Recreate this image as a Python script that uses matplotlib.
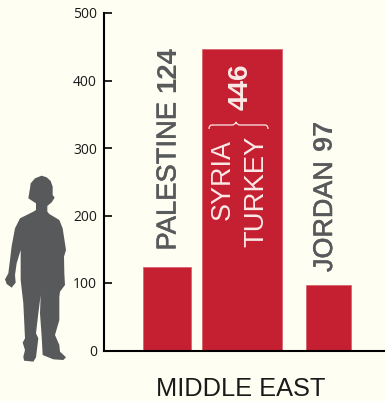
import matplotlib
matplotlib.use('Agg')
import matplotlib.pyplot as plt
import matplotlib.patheffects as pe
from matplotlib.patches import Polygon
from matplotlib.path import Path
from matplotlib.patches import PathPatch

# data
countries = ['PALESTINE', 'SYRIA / TURKEY', 'JORDAN']
values = [124, 446, 97]
y_ticks = [0, 100, 200, 300, 400, 500]
region = 'MIDDLE EAST'

# layout, in pixels from the axis
bar_x = [63, 138, 224.5]
bar_w = [48.5, 80.5, 45]

W, H = 385, 401
bg = '#fefef2'
red = '#c42032'
grey = '#58595b'
light = '#fbe9e6'

fig = plt.figure(figsize=(W / 100, H / 100), dpi=100, facecolor=bg)
ax = fig.add_axes([104 / W, 1 - 350.5 / H, (W - 104) / W, (350.5 - 13) / H])
ax.set_facecolor('none')
ax.set_xlim(0, W - 104)
ax.set_ylim(0, 500)

ax.bar(bar_x, values, width=bar_w, color=red, edgecolor='#d9596a', linewidth=0.5)

for s in ['top', 'right']:
    ax.spines[s].set_visible(False)
for s in ['left', 'bottom']:
    ax.spines[s].set_linewidth(1.5)
    ax.spines[s].set_color('black')
ax.set_xticks([])
ax.set_yticks(y_ticks)
ax.tick_params(axis='y', direction='in', length=6, width=1.2, pad=5)
for t in ax.get_yticklabels():
    t.set_family('Open Sans')
    t.set_fontsize(10)
    t.set_color('#1a1a1a')


def px_text(x, y, s, size, color, weight='normal'):
    # y is the pixel row of the text's lower end
    t = fig.text(x / W, 1 - y / H, s, rotation=90, ha='center', va='bottom',
                 family='Liberation Sans', fontsize=size, color=color, weight=weight)
    if weight == 'normal' and color == grey:
        t.set_path_effects([pe.withStroke(linewidth=0.4, foreground=grey)])


px_text(168.5, 250.5, countries[0], 19.7, grey)
px_text(168.5, 91.5, str(values[0]), 19.8, grey, 'bold')
px_text(222.5, 220, 'SYRIA', 19.4, light)
px_text(256.5, 247, 'TURKEY', 19.8, light)
px_text(241, 109.5, str(values[1]), 20.2, light, 'bold')
px_text(325, 272, countries[2], 19.4, grey)
px_text(325, 149.5, str(values[2]), 19.5, grey, 'bold')

fig.text(240.5 / W, 1 - 396 / H, region, ha='center', va='baseline',
         family='Liberation Sans', fontsize=18.3, color='#1a1a1a')

# brace over the two country names
brace = [(209, 129), (209, 125), (212, 125), (232, 125), (235, 125), (236, 122),
         (237, 125), (240, 125), (265, 125), (268, 125), (268, 129)]
codes = [Path.MOVETO, Path.CURVE3, Path.CURVE3, Path.LINETO, Path.CURVE3, Path.CURVE3,
         Path.CURVE3, Path.CURVE3, Path.LINETO, Path.CURVE3, Path.CURVE3]
fig.add_artist(PathPatch(Path([(x / W, 1 - y / H) for x, y in brace], codes),
                         transform=fig.transFigure, fill=False, ec=light, lw=0.9))

# child silhouette for scale (3x crop coordinates)
child = [(125, 47), (140, 52), (152, 63), (158, 80), (158, 105), (164, 113), (155, 127),
         (142, 138), (142, 155), (148, 162), (178, 180), (188, 205), (198, 270), (192, 290),
         (193, 340), (195, 375), (180, 395), (178, 410), (178, 480), (165, 525), (178, 555),
         (180, 575), (198, 592), (190, 600), (160, 598), (128, 585), (125, 530), (120, 460),
         (122, 405), (115, 460), (108, 520), (115, 535), (108, 592), (100, 605), (72, 602),
         (70, 590), (75, 570), (68, 548), (75, 535), (70, 430), (62, 360), (62, 270),
         (50, 310), (45, 345), (47, 368), (35, 383), (20, 372), (15, 358), (25, 340),
         (30, 300), (35, 258), (45, 205), (60, 175), (100, 155), (108, 150), (108, 130),
         (85, 115), (90, 85), (92, 70), (105, 55)]
pts = [(x / 3 / W, 1 - (160 + y / 3) / H) for x, y in child]
fig.add_artist(Polygon(pts, closed=True, transform=fig.transFigure, fc=grey, ec='none'))

fig.savefig('out.png', dpi=100, facecolor=bg)
